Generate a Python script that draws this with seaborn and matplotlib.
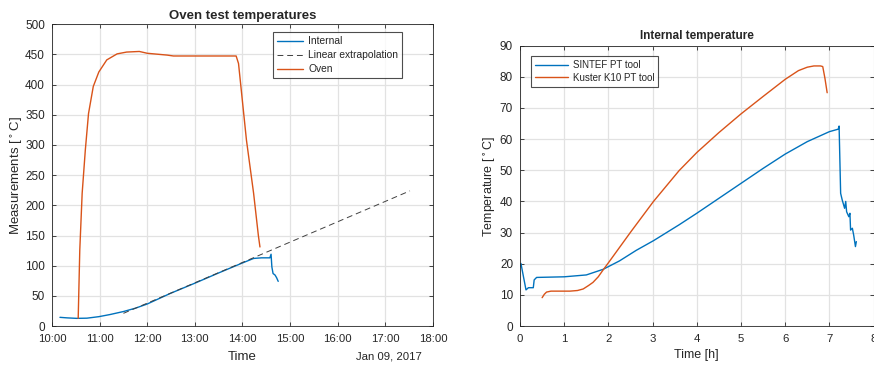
import numpy as np
import pandas as pd
import matplotlib
matplotlib.use("Agg")
import matplotlib.pyplot as plt
import matplotlib.dates as mdates
import seaborn as sns

# ---- Oven test (left panel) ----
test_day = "2017-01-09"

internal_time = ["10:10", "10:19", "10:31", "10:44", "10:59", "11:13", "11:30", "11:45",
                 "12:00", "12:29", "13:00", "13:30", "13:59", "14:14", "14:24", "14:34:30",
                 "14:36", "14:37", "14:38:30", "14:41", "14:43", "14:45"]
internal_temp = [14.4, 13.5, 12.7, 13.0, 15.5, 19.0, 24.0, 29.5,
                 36.5, 54.0, 71.0, 88.0, 104.0, 112.0, 113.0, 113.0,
                 119.0, 98.0, 87.0, 84.5, 80.0, 74.0]

extrap_time = ["11:30", "17:31"]
extrap_temp = [21.0, 224.0]

oven_time = ["10:33", "10:35", "10:38", "10:42", "10:46", "10:52", "10:59", "11:09",
             "11:22", "11:34", "11:50", "12:00", "12:25", "12:33", "13:52", "13:55",
             "14:05", "14:14", "14:20", "14:22"]
oven_temp = [12.7, 126, 220, 292, 352, 397, 421, 441,
             451, 454, 455, 452, 449, 447.5, 447.5, 435,
             308, 220, 150, 131]

# ---- Internal temperature (right panel) ----
sintef_hours = [0.0, 0.02, 0.135, 0.19, 0.30, 0.32, 0.375, 1.0, 1.5, 1.88, 2.25, 2.63,
                3.02, 3.6, 4.0, 4.5, 5.0, 5.5, 6.0, 6.5, 7.0, 7.20, 7.22,
                7.255, 7.29, 7.345, 7.37, 7.39, 7.44, 7.465, 7.48, 7.52, 7.55, 7.59, 7.61]
sintef_temp = [19.0, 20.1, 11.6, 12.3, 12.3, 14.8, 15.6, 15.8, 16.4, 18.2, 20.9, 24.3,
               27.4, 32.5, 36.2, 41.0, 45.8, 50.6, 55.2, 59.2, 62.4, 63.2, 64.2,
               42.6, 40.5, 37.8, 40.0, 36.7, 35.1, 36.2, 30.8, 31.4, 29.2, 25.5, 27.1]

kuster_hours = [0.5, 0.55, 0.6, 0.7, 1.0, 1.13, 1.3, 1.43, 1.55, 1.65, 1.77, 1.88, 2.01,
                2.25, 2.51, 3.02, 3.6, 4.0, 4.5, 5.0, 5.5, 6.0, 6.3, 6.5, 6.65, 6.8,
                6.85, 6.9, 6.95]
kuster_temp = [9.1, 10.2, 10.9, 11.2, 11.2, 11.2, 11.4, 11.9, 13.0, 14.0, 15.8, 18.0, 20.5,
               25.2, 30.3, 40.0, 49.9, 55.7, 62.1, 68.1, 73.7, 79.2, 82.0, 83.1, 83.5, 83.5,
               83.3, 79.5, 74.9]

BLUE = "#0072BD"
ORANGE = "#D95319"
AXCOL = "#262626"

sns.set_theme(style="white")
plt.rcParams.update({
    "font.family": ["Liberation Sans", "DejaVu Sans"],
    "font.size": 8,
    "axes.edgecolor": AXCOL,
    "axes.linewidth": 0.6,
    "xtick.color": AXCOL,
    "ytick.color": AXCOL,
    "xtick.labelcolor": AXCOL,
    "ytick.labelcolor": AXCOL,
    "xtick.labelsize": 8.2,
    "ytick.labelsize": 8.5,
    "xtick.direction": "in",
    "ytick.direction": "in",
    "xtick.major.size": 3,
    "ytick.major.size": 3,
    "xtick.major.width": 0.6,
    "ytick.major.width": 0.6,
    "xtick.major.pad": 5.5,
    "ytick.major.pad": 5,
    "xtick.top": True,
    "ytick.right": True,
    "xtick.bottom": True,
    "ytick.left": True,
    "text.color": AXCOL,
    "axes.labelcolor": AXCOL,
})


def to_dt(times):
    return pd.to_datetime([f"{test_day} {t}" for t in times], format="mixed")


df_internal = pd.DataFrame({"time": to_dt(internal_time), "temp": internal_temp, "series": "Internal"})
df_extrap = pd.DataFrame({"time": to_dt(extrap_time), "temp": extrap_temp, "series": "Linear extrapolation"})
df_oven = pd.DataFrame({"time": to_dt(oven_time), "temp": oven_temp, "series": "Oven"})

df_sintef = pd.DataFrame({"hours": sintef_hours, "temp": sintef_temp, "series": "SINTEF PT tool"})
df_kuster = pd.DataFrame({"hours": kuster_hours, "temp": kuster_temp, "series": "Kuster K10 PT tool"})

fig = plt.figure(figsize=(8.74, 3.65), dpi=100)
ax1 = fig.add_axes([0.0595, 0.1068, 0.4359, 0.8266])
ax2 = fig.add_axes([0.595, 0.1068, 0.4045, 0.768])

grid_kw = dict(color="#e2e2e2", linewidth=0.9)
legend_kw = dict(frameon=True, fancybox=False, edgecolor="#202020",
                 borderpad=0.4, handletextpad=0.5, borderaxespad=0.0)

# Left panel
sns.lineplot(data=df_internal, x="time", y="temp", ax=ax1, color=BLUE, lw=1.0,
             estimator=None, sort=False, label="Internal")
sns.lineplot(data=df_extrap, x="time", y="temp", ax=ax1, color="#404040", lw=0.7,
             estimator=None, sort=False, label="Linear extrapolation")
ax1.lines[-1].set_dashes([6, 4])
sns.lineplot(data=df_oven, x="time", y="temp", ax=ax1, color=ORANGE, lw=1.0,
             estimator=None, sort=False, label="Oven")

ax1.set_xlim(pd.Timestamp(f"{test_day} 10:00"), pd.Timestamp(f"{test_day} 18:00"))
ax1.set_ylim(0, 500)
ax1.xaxis.set_major_locator(mdates.HourLocator(interval=1))
ax1.xaxis.set_major_formatter(mdates.DateFormatter("%H:%M"))
ax1.set_yticks(np.arange(0, 501, 50))
ax1.grid(True, **grid_kw)
ax1.set_axisbelow(True)
ax1.set_title("Oven test temperatures", fontsize=9.5, fontweight="bold", pad=4)
ax1.set_xlabel("Time", fontsize=9.5, labelpad=5)
ax1.set_ylabel("Measurements [$^\\circ$C]", fontsize=9.5, labelpad=0)
ax1.text(0.97, -0.1, "Jan 09, 2017", transform=ax1.transAxes, ha="right", va="center",
         fontsize=8.2)
leg1 = ax1.legend(loc="upper right", bbox_to_anchor=(0.919, 0.9745), handlelength=2.5,
                  fontsize=7.4, labelspacing=0.4, **legend_kw)
leg1.get_frame().set_linewidth(0.8)
leg1.get_lines()[1].set_dashes([6, 4])

# Right panel
sns.lineplot(data=df_sintef, x="hours", y="temp", ax=ax2, color=BLUE, lw=1.0,
             estimator=None, sort=False, label="SINTEF PT tool")
sns.lineplot(data=df_kuster, x="hours", y="temp", ax=ax2, color=ORANGE, lw=1.0,
             estimator=None, sort=False, label="Kuster K10 PT tool")
ax2.set_xlim(0, 8)
ax2.set_ylim(0, 90)
ax2.set_xticks(np.arange(0, 9, 1))
ax2.set_yticks(np.arange(0, 91, 10))
ax2.grid(True, **grid_kw)
ax2.set_axisbelow(True)
ax2.set_title("Internal temperature", fontsize=8.5, fontweight="bold", pad=5)
ax2.set_xlabel("Time [h]", fontsize=9, labelpad=4)
ax2.set_ylabel("Temperature [$^\\circ$C]", fontsize=9, labelpad=1)
leg2 = ax2.legend(loc="upper left", bbox_to_anchor=(0.031, 0.963), handlelength=3.4,
                  fontsize=7.0, labelspacing=0.3, **legend_kw)
leg2.get_frame().set_linewidth(0.8)

for ax in (ax1, ax2):
    for sp in ax.spines.values():
        sp.set_visible(True)
        sp.set_color(AXCOL)

fig.savefig("out.png", dpi=100)
